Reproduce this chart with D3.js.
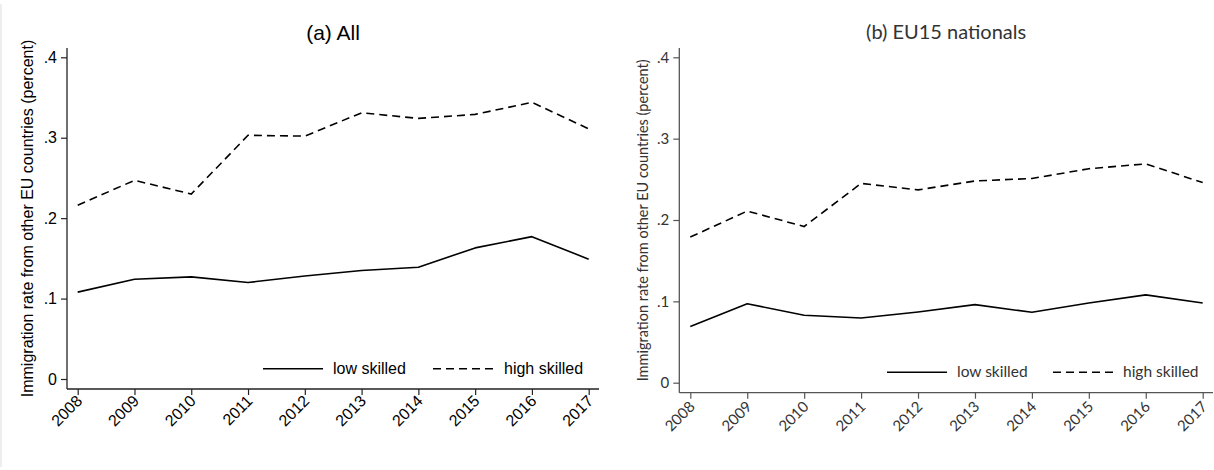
<!DOCTYPE html>
<html>
<head>
<meta charset="utf-8">
<script src="https://cdn.jsdelivr.net/npm/d3@7/dist/d3.min.js"></script>
<style>
  html, body { margin: 0; padding: 0; background: #fff; }
  svg { display: block; }
</style>
</head>
<body>
<svg id="chart" width="1214" height="470"></svg>
<script>
// Years on the horizontal axis
const years = [2008, 2009, 2010, 2011, 2012, 2013, 2014, 2015, 2016, 2017];
const yTicks = [0, 0.1, 0.2, 0.3, 0.4];
const yTickLabels = ["0", ".1", ".2", ".3", ".4"];

// (a) All immigrants from other EU countries
const allLow  = [0.108, 0.124, 0.127, 0.120, 0.128, 0.135, 0.139, 0.163, 0.177, 0.149];
const allHigh = [0.216, 0.247, 0.230, 0.303, 0.302, 0.331, 0.324, 0.329, 0.344, 0.311];

// (b) EU15 nationals only
const eu15Low  = [0.069, 0.097, 0.083, 0.0795, 0.087, 0.096, 0.0865, 0.098, 0.108, 0.098];
const eu15High = [0.179, 0.211, 0.192, 0.245, 0.237, 0.248, 0.251, 0.263, 0.269, 0.246];

const seriesNames = ["low skilled", "high skilled"];
const yTitle = "Immigration rate from other EU countries (percent)";

const svg = d3.select("#chart");

// faint frame edge on the left
svg.append("rect").attr("x", 0).attr("y", 4).attr("width", 2).attr("height", 463).attr("fill", "#eeeeee");

function drawPanel(p) {
  const g = svg.append("g")
    .attr("font-family", p.font)
    .attr("fill", p.text);

  const x = d3.scaleLinear().domain([2008, 2017]).range([p.x0, p.x1]);
  const y = d3.scaleLinear().domain([0, 0.4]).range([p.y0, p.y4]);

  // spines
  g.append("line").attr("x1", p.left).attr("x2", p.left).attr("y1", p.top).attr("y2", p.bottom)
    .attr("stroke", p.axis).attr("stroke-width", 1.3);
  g.append("line").attr("x1", p.left).attr("x2", p.right).attr("y1", p.bottom).attr("y2", p.bottom)
    .attr("stroke", p.axis).attr("stroke-width", 1.3);

  // y axis ticks & labels
  const ya = g.append("g").attr("transform", `translate(${p.left},0)`)
    .call(d3.axisLeft(y).tickValues(yTicks).tickSize(6).tickSizeOuter(0)
      .tickFormat((d, i) => yTickLabels[i]));
  ya.select(".domain").remove();
  ya.selectAll(".tick line").attr("stroke", p.axis).attr("stroke-width", 1.2);
  ya.selectAll(".tick text").attr("font-family", p.font).attr("font-size", p.tickSize)
    .attr("fill", p.text).attr("x", -10);

  // x axis ticks & rotated labels
  const xa = g.append("g").attr("transform", `translate(0,${p.bottom})`)
    .call(d3.axisBottom(x).tickValues(years).tickSize(6).tickSizeOuter(0).tickFormat(d3.format("d")));
  xa.select(".domain").remove();
  xa.selectAll(".tick line").attr("stroke", p.axis).attr("stroke-width", 1.2);
  xa.selectAll(".tick text").attr("font-family", p.font).attr("font-size", p.tickSize)
    .attr("fill", p.text)
    .attr("text-anchor", "end")
    .attr("dy", null)
    .attr("y", 0)
    .attr("transform", `translate(${p.xlabDx},${p.xlabDy}) rotate(-45)`);

  // y axis title
  g.append("text")
    .attr("transform", `translate(${p.ytitleX},${(p.top + p.bottom) / 2}) rotate(-90)`)
    .attr("text-anchor", "middle")
    .attr("font-size", p.ytitleSize)
    .text(yTitle);

  // panel title
  g.append("text")
    .attr("x", (p.left + p.right) / 2).attr("y", p.titleY)
    .attr("text-anchor", "middle")
    .attr("font-size", p.titleSize)
    .text(p.title);

  const line = d3.line().x((d, i) => x(years[i])).y(d => y(d));

  g.append("path").datum(p.low).attr("d", line)
    .attr("fill", "none").attr("stroke", "#000").attr("stroke-width", 1.6)
    .attr("stroke-linejoin", "round");
  g.append("path").datum(p.high).attr("d", line)
    .attr("fill", "none").attr("stroke", "#000").attr("stroke-width", 1.6)
    .attr("stroke-dasharray", "8,5");

  // legend
  const lg = p.legend;
  g.append("line").attr("x1", lg.l1).attr("x2", lg.l1 + 60).attr("y1", lg.y).attr("y2", lg.y)
    .attr("stroke", "#000").attr("stroke-width", 1.6);
  g.append("text").attr("x", lg.t1).attr("y", lg.ty).attr("font-size", lg.size).text(seriesNames[0]);
  g.append("line").attr("x1", lg.l2).attr("x2", lg.l2 + 60).attr("y1", lg.y).attr("y2", lg.y)
    .attr("stroke", "#000").attr("stroke-width", 1.6).attr("stroke-dasharray", "8,5");
  g.append("text").attr("x", lg.t2).attr("y", lg.ty).attr("font-size", lg.size).text(seriesNames[1]);
}

drawPanel({
  title: "(a) All", low: allLow, high: allHigh,
  font: "'Liberation Sans', Arial, sans-serif", text: "#000", axis: "#222",
  left: 67, right: 599, top: 48, bottom: 389,
  x0: 77.7, x1: 588.7, y0: 379, y4: 57.3,
  tickSize: 16, ytitleSize: 16, titleSize: 21, titleY: 39.5, ytitleX: 33,
  xlabDx: 5, xlabDy: 13,
  legend: { l1: 263, l2: 433, t1: 333, t2: 504, y: 368.7, ty: 374, size: 16 }
});

drawPanel({
  title: "(b) EU15 nationals", low: eu15Low, high: eu15High,
  font: "Lato, 'Open Sans', sans-serif", text: "#333", axis: "#555",
  left: 679.3, right: 1213, top: 48, bottom: 392.7,
  x0: 690.3, x1: 1202.7, y0: 382.7, y4: 57.3,
  tickSize: 15, ytitleSize: 14.5, titleSize: 20, titleY: 38.5, ytitleX: 648,
  xlabDx: 5, xlabDy: 15,
  legend: { l1: 887, l2: 1053, t1: 957, t2: 1123, y: 372.3, ty: 377, size: 15.5 }
});
</script>
</body>
</html>
